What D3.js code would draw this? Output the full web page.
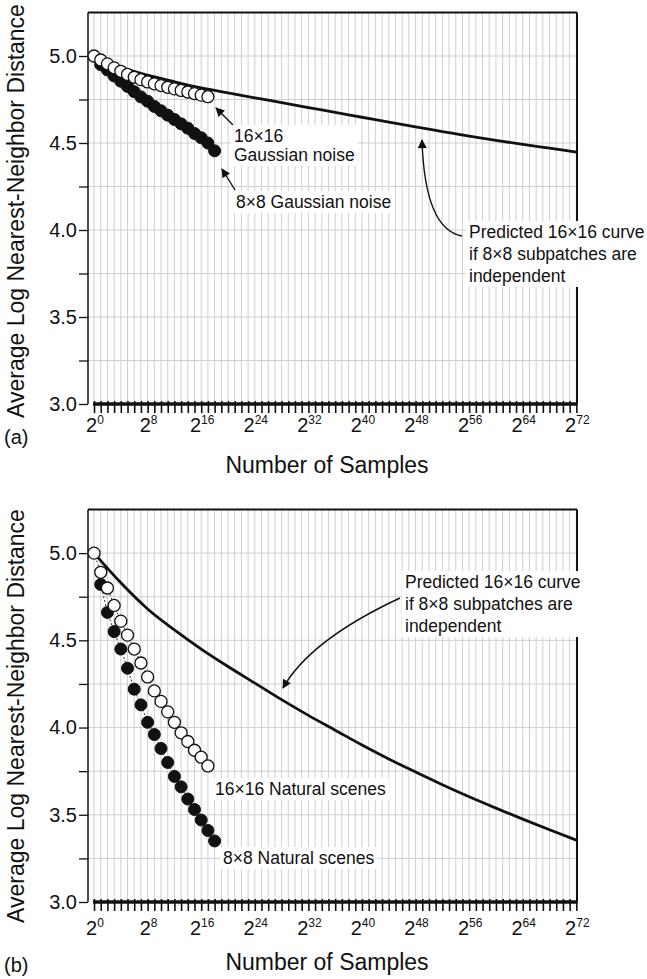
<!DOCTYPE html>
<html><head><meta charset="utf-8">
<script src="https://cdn.jsdelivr.net/npm/d3@7"></script>
<style>
html,body{margin:0;padding:0;background:#fff;}
svg text{font-family:"Liberation Sans",Arial,Helvetica,sans-serif;fill:#111;}
</style></head>
<body>
<svg id="chart" width="647" height="979"></svg>
<script>
// ---------- DATA ----------
const xGridExps = [0,1,2,3,4,5,6,7,8,9,10,11,12,13,14,15,16,17,18,19,20,21,22,23,24,25,26,27,28,29,30,31,32,33,34,35,36,37,38,39,40,41,42,43,44,45,46,47,48,49,50,51,52,53,54,55,56,57,58,59,60,61,62,63,64,65,66,67,68,69,70,71,72];
const xLabelExps = [0,8,16,24,32,40,48,56,64,72];
const yMajorTicks = [3.0,3.5,4.0,4.5,5.0];
const yMinorTicks = [3.25,3.75,4.25,4.75];

const openExps   = [0,1,2,3,4,5,6,7,8,9,10,11,12,13,14,15,16,17];
const filledExps = [1,2,3,4,5,6,7,8,9,10,11,12,13,14,15,16,17,18];
const predExps   = [0,4,8,12,16,20,24,28,32,36,40,44,48,52,56,60,64,68,72];

// (a) Gaussian noise
const gauss16 = [5.00,4.977,4.955,4.932,4.912,4.894,4.878,4.864,4.851,4.840,4.830,4.820,4.811,4.802,4.793,4.784,4.775,4.766];
const gauss8  = [4.95,4.92,4.885,4.855,4.825,4.795,4.765,4.74,4.71,4.685,4.66,4.635,4.61,4.585,4.555,4.53,4.50,4.455];
const gaussPred = [5.00,4.935,4.89,4.852,4.817,4.788,4.76,4.732,4.704,4.676,4.648,4.62,4.592,4.566,4.54,4.515,4.492,4.47,4.448];

// (b) Natural scenes
const nat16 = [5.00,4.89,4.80,4.70,4.61,4.53,4.45,4.37,4.29,4.21,4.15,4.09,4.03,3.97,3.92,3.87,3.83,3.78];
const nat8  = [4.82,4.66,4.55,4.45,4.34,4.22,4.13,4.03,3.96,3.88,3.80,3.72,3.66,3.59,3.53,3.47,3.41,3.35];
const natPred = [5.00,4.83,4.68,4.56,4.45,4.35,4.255,4.16,4.07,3.985,3.90,3.82,3.745,3.672,3.603,3.538,3.475,3.414,3.355];

// ---------- DRAW ----------
const svg = d3.select("#chart");
svg.append("rect").attr("width",647).attr("height",979).attr("fill","#fff");

const defs = svg.append("defs");
defs.append("marker").attr("id","ah").attr("viewBox","0 0 10 10")
  .attr("refX",9).attr("refY",5).attr("markerWidth",11).attr("markerHeight",9)
  .attr("markerUnits","userSpaceOnUse").attr("orient","auto")
  .append("path").attr("d","M0,0 L10,5 L0,10 z").attr("fill","#111");

const X0 = 88, X1 = 577;
const x = d3.scaleLinear().domain([-0.9, 72.1]).range([X0, X1]);

function panel(cfg){
  const y = d3.scaleLinear().domain([3, 5.25]).range([cfg.bottom, cfg.top]);
  const g = svg.append("g");

  // grid
  g.append("g").selectAll("line").data(xGridExps).join("line")
    .attr("x1",d=>x(d)).attr("x2",d=>x(d)).attr("y1",cfg.top).attr("y2",cfg.bottom)
    .attr("stroke","#cfcfcf").attr("stroke-width",1);
  g.append("g").selectAll("line").data(yMajorTicks.concat(yMinorTicks).filter(d=>d>3)).join("line")
    .attr("x1",X0).attr("x2",X1).attr("y1",d=>y(d)).attr("y2",d=>y(d))
    .attr("stroke","#cfcfcf").attr("stroke-width",1);

  // frame
  g.append("line").attr("x1",X0).attr("x2",X1).attr("y1",cfg.top).attr("y2",cfg.top).attr("stroke","#111").attr("stroke-width",2);
  g.append("line").attr("x1",X1).attr("x2",X1).attr("y1",cfg.top).attr("y2",cfg.bottom).attr("stroke","#111").attr("stroke-width",2);

  // y axis
  const ya = g.append("g").attr("transform",`translate(${X0},0)`)
    .call(d3.axisLeft(y).tickValues(yMajorTicks.concat(yMinorTicks)).tickSize(9)
      .tickFormat(d=> yMajorTicks.includes(d) ? d3.format(".1f")(d) : ""));
  ya.select(".domain").attr("stroke","#111").attr("stroke-width",1.5).attr("d",`M0,${cfg.top}V${cfg.bottom}`);
  ya.selectAll(".tick line").attr("stroke","#111").attr("stroke-width",1.3);
  ya.selectAll(".tick text").attr("font-size",20).attr("x",-11).attr("fill","#111");

  // x axis
  const xa = g.append("g").attr("transform",`translate(0,${cfg.bottom})`)
    .call(d3.axisBottom(x).tickValues(xGridExps).tickSize(9).tickFormat(""));
  xa.select(".domain").remove();
  xa.selectAll(".tick line").attr("y1",-3).attr("stroke","#111").attr("stroke-width",1.6);
  g.append("line").attr("x1",x(0)-1).attr("x2",x(72)+1).attr("y1",cfg.bottom).attr("y2",cfg.bottom)
    .attr("stroke","#111").attr("stroke-width",3.5);

  const lab = g.append("g").selectAll("text").data(xLabelExps).join("text")
    .attr("x",d=>x(d)+1).attr("y",cfg.bottom+cfg.tickLabDy).attr("text-anchor","middle").attr("font-size",20);
  lab.append("tspan").text("2");
  lab.append("tspan").attr("font-size",12).attr("dy",-8).text(d=>d);

  // axis titles
  svg.append("text").attr("transform",`translate(24,${cfg.yTitleY}) rotate(-90)`)
    .attr("text-anchor","middle").attr("font-size",23).text("Average Log Nearest-Neighbor Distance");
  svg.append("text").attr("x",327).attr("y",cfg.xTitleY).attr("text-anchor","middle")
    .attr("font-size",23).text("Number of Samples");
  svg.append("text").attr("x",4).attr("y",cfg.panelLabY).attr("font-size",20).text(cfg.panelLab);

  // predicted curve
  g.append("path").datum(predExps.map((e,i)=>[e,cfg.pred[i]]))
    .attr("d", d3.line().x(d=>x(d[0])).y(d=>y(d[1])).curve(d3.curveMonotoneX))
    .attr("fill","none").attr("stroke","#111").attr("stroke-width",2.8);

  // dotted connectors
  const conn = d3.line().x(d=>x(d[0])).y(d=>y(d[1]));
  g.append("path").datum(filledExps.map((e,i)=>[e,cfg.s8[i]])).attr("d",conn)
    .attr("fill","none").attr("stroke","#333").attr("stroke-width",1).attr("stroke-dasharray","2,2");
  g.append("path").datum(openExps.map((e,i)=>[e,cfg.s16[i]])).attr("d",conn)
    .attr("fill","none").attr("stroke","#333").attr("stroke-width",1).attr("stroke-dasharray","2,2");

  // markers
  g.append("g").selectAll("circle").data(filledExps.map((e,i)=>[e,cfg.s8[i]])).join("circle")
    .attr("cx",d=>x(d[0])).attr("cy",d=>y(d[1])).attr("r",6).attr("fill","#111").attr("stroke","#111").attr("stroke-width",1);
  g.append("g").selectAll("circle").data(openExps.map((e,i)=>[e,cfg.s16[i]])).join("circle")
    .attr("cx",d=>x(d[0])).attr("cy",d=>y(d[1])).attr("r",6).attr("fill","#fff").attr("stroke","#111").attr("stroke-width",1.3);

  // annotations
  const ann = svg.append("g");
  cfg.arrows.forEach(a=>{
    ann.append("path").attr("d",a).attr("fill","none").attr("stroke","#111").attr("stroke-width",1.4).attr("marker-end","url(#ah)");
  });
  cfg.labels.forEach(L=>{
    const tg = ann.append("g");
    const t = tg.append("text").attr("x",L.x).attr("y",L.y).attr("font-size",17.5);
    L.lines.forEach((s,i)=> t.append("tspan").attr("x",L.x).attr("dy", i===0?0:L.lh).text(s));
    const bb = t.node().getBBox();
    tg.insert("rect","text").attr("x",bb.x-3).attr("y",bb.y-1).attr("width",bb.width+6).attr("height",bb.height+2).attr("fill","#fff");
  });
}

panel({top:12.5,bottom:404,tickLabDy:28,yTitleY:211,xTitleY:473,panelLabY:444,panelLab:"(a)",
  s16:gauss16,s8:gauss8,pred:gaussPred,
  arrows:["M233,125 L216,108","M235,190 L222,169","M462,236 C440,232 424,205 422,140"],
  labels:[
    {x:234,y:142,lh:19,lines:["16\u00d716","Gaussian noise"]},
    {x:236,y:208,lh:19,lines:["8\u00d78 Gaussian noise"]},
    {x:469,y:238,lh:22,lines:["Predicted 16\u00d716 curve","if 8\u00d78 subpatches are","independent"]}
  ]});

panel({top:509.5,bottom:902,tickLabDy:33,yTitleY:716,xTitleY:970,panelLabY:972,panelLab:"(b)",
  s16:nat16,s8:nat8,pred:natPred,
  arrows:["M400,598 Q310,640 283,688"],
  labels:[
    {x:215,y:795,lh:19,lines:["16\u00d716 Natural scenes"]},
    {x:223,y:864,lh:19,lines:["8\u00d78 Natural scenes"]},
    {x:405,y:588,lh:22,lines:["Predicted 16\u00d716 curve","if 8\u00d78 subpatches are","independent"]}
  ]});
</script>
</body></html>
